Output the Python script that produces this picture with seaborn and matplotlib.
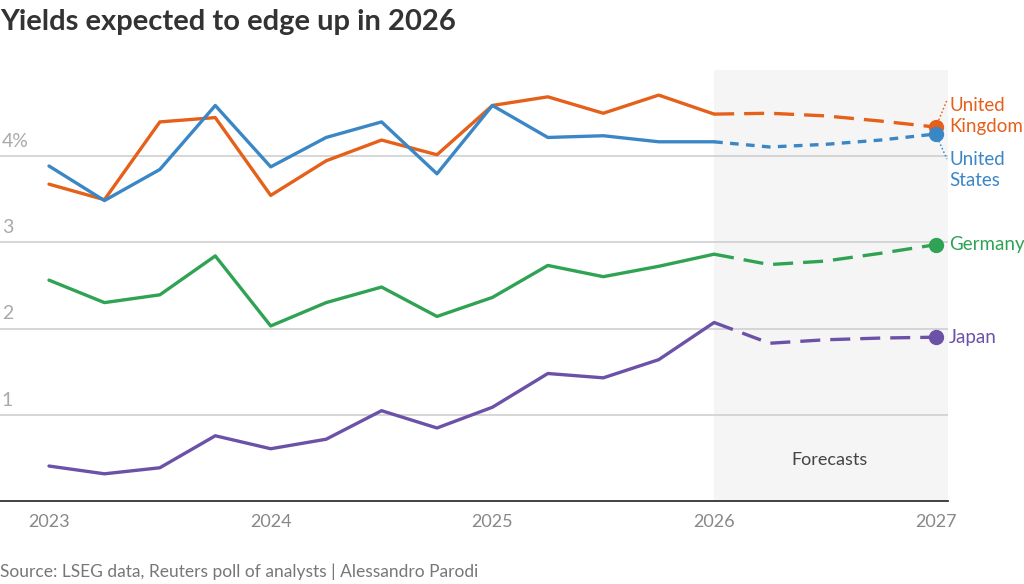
import matplotlib
matplotlib.use("Agg")
import matplotlib.pyplot as plt
import matplotlib.transforms as mtransforms
import numpy as np
import pandas as pd
import seaborn as sns

# quarterly history and forecast points
hist_quarters = ["2023Q1", "2023Q2", "2023Q3", "2023Q4",
                 "2024Q1", "2024Q2", "2024Q3", "2024Q4",
                 "2025Q1", "2025Q2", "2025Q3", "2025Q4", "2026Q1"]
fc_quarters = ["2026Q1", "2026Q2", "2026Q3", "2026Q4", "2027Q1"]

uk_hist = [3.67, 3.49, 4.39, 4.44, 3.54, 3.94, 4.18, 4.01, 4.58, 4.68, 4.49, 4.70, 4.48]
uk_fc = [4.48, 4.49, 4.46, 4.40, 4.33]
us_hist = [3.88, 3.48, 3.84, 4.58, 3.87, 4.21, 4.39, 3.79, 4.58, 4.21, 4.23, 4.16, 4.16]
us_fc = [4.16, 4.10, 4.13, 4.18, 4.25]
de_hist = [2.56, 2.30, 2.39, 2.84, 2.03, 2.30, 2.48, 2.14, 2.36, 2.73, 2.60, 2.72, 2.86]
de_fc = [2.86, 2.74, 2.78, 2.87, 2.97]
jp_hist = [0.41, 0.32, 0.39, 0.76, 0.61, 0.72, 1.05, 0.85, 1.09, 1.48, 1.43, 1.64, 2.07]
jp_fc = [2.07, 1.83, 1.87, 1.89, 1.90]

year_ticks = [2023, 2024, 2025, 2026, 2027]
y_ticks = [1, 2, 3, 4]
y_labels = ["1", "2", "3", "4%"]

countries = ["United Kingdom", "United States", "Germany", "Japan"]
colors = {"United Kingdom": "#e5601a", "United States": "#3b87c6",
          "Germany": "#2fa353", "Japan": "#6b51a8"}
dashes = {"United Kingdom": (6, 3), "United States": (2.6, 2.2),
          "Germany": (6, 3), "Japan": (6, 3)}


def to_year(qs):
    p = pd.PeriodIndex(qs, freq="Q")
    return p.year + (p.quarter - 1) / 4.0


rows = []
for name, h, f in [("United Kingdom", uk_hist, uk_fc), ("United States", us_hist, us_fc),
                   ("Germany", de_hist, de_fc), ("Japan", jp_hist, jp_fc)]:
    for x, v in zip(to_year(hist_quarters), h):
        rows.append({"country": name, "part": "hist", "x": x, "y": v})
    for x, v in zip(to_year(fc_quarters), f):
        rows.append({"country": name, "part": "fc", "x": x, "y": v})
df = pd.DataFrame(rows)

sns.set_style("white")
plt.rcParams["font.family"] = ["Lato", "DejaVu Sans"]

fig = plt.figure(figsize=(10.24, 5.84), dpi=100)
ax = fig.add_axes([0.0, 0.1413, 0.9258, 0.7388])

x_min, x_max = 2022.779, 2027.055
ax.set_xlim(x_min, x_max)
ax.set_ylim(0, 4.99)

# forecast shading
ax.axvspan(2026, x_max, color="#f5f5f5", zorder=0, lw=0)
ax.text(2026.52, 0.48, "Forecasts", ha="center", va="center", fontsize=13,
        color="#444444")

for v in y_ticks:
    ax.axhline(v, color="#cccccc", lw=1.1, zorder=1)

trans = mtransforms.blended_transform_factory(ax.transAxes, ax.transData)
for v, lab in zip(y_ticks, y_labels):
    ax.text(0.002, v + 0.07, lab, transform=trans, ha="left", va="bottom",
            fontsize=14, color="#aaaaaa")

for name in countries:
    sub = df[df.country == name]
    sns.lineplot(data=sub[sub.part == "hist"], x="x", y="y", color=colors[name],
                 lw=2.4, ax=ax, zorder=3, legend=False)
    fc = sub[sub.part == "fc"]
    sns.lineplot(data=fc, x="x", y="y", color=colors[name], lw=2.4,
                 ax=ax, zorder=3, legend=False)
    ax.lines[-1].set_dashes(dashes[name])
    end = fc.iloc[-1]
    ax.plot(end.x, end.y, "o", color=colors[name], ms=10, zorder=4, clip_on=False)

# end labels
uk_end = df[(df.country == "United Kingdom")].iloc[-1]
us_end = df[(df.country == "United States")].iloc[-1]
de_end = df[(df.country == "Germany")].iloc[-1]
jp_end = df[(df.country == "Japan")].iloc[-1]

ax.plot([uk_end.x, 2027.05], [uk_end.y, 4.64], ls=(0, (1, 1.5)), color=colors["United Kingdom"],
        lw=1.1, clip_on=False, zorder=2)
ax.plot([us_end.x, 2027.05], [us_end.y, 3.96], ls=(0, (1, 1.5)), color=colors["United States"],
        lw=1.1, clip_on=False, zorder=2)

lab_x = 2027.06
lab_kw = dict(fontsize=13.5, ha="left", va="center", clip_on=False)
ax.text(lab_x, 4.455, "United\nKingdom", color=colors["United Kingdom"], linespacing=1.3, **lab_kw)
ax.text(lab_x, 3.83, "United\nStates", color=colors["United States"], linespacing=1.3, **lab_kw)
ax.text(lab_x, de_end.y, "Germany", color=colors["Germany"], **lab_kw)
ax.text(lab_x, jp_end.y, "Japan", color=colors["Japan"], **lab_kw)

ax.set_xticks(year_ticks)
ax.set_xticklabels([str(y) for y in year_ticks])
ax.set_yticks([])
ax.set_xlabel("")
ax.set_ylabel("")
ax.tick_params(axis="x", length=0, pad=9, labelsize=13, labelcolor="#888888")
for s in ["top", "right", "left"]:
    ax.spines[s].set_visible(False)
ax.spines["bottom"].set_color("#333333")
ax.spines["bottom"].set_linewidth(1.3)
ax.set_facecolor("none")

fig.text(0.0, 1 - 22 / 584, "Yields expected to edge up in 2026", fontsize=21,
         fontweight="bold", color="#333333", ha="left", va="center")
fig.text(0.0, 1 - 572 / 584, "Source: LSEG data, Reuters poll of analysts | Alessandro Parodi",
         fontsize=12.5, color="#777777", ha="left", va="center")

fig.savefig("out.png", dpi=100)
